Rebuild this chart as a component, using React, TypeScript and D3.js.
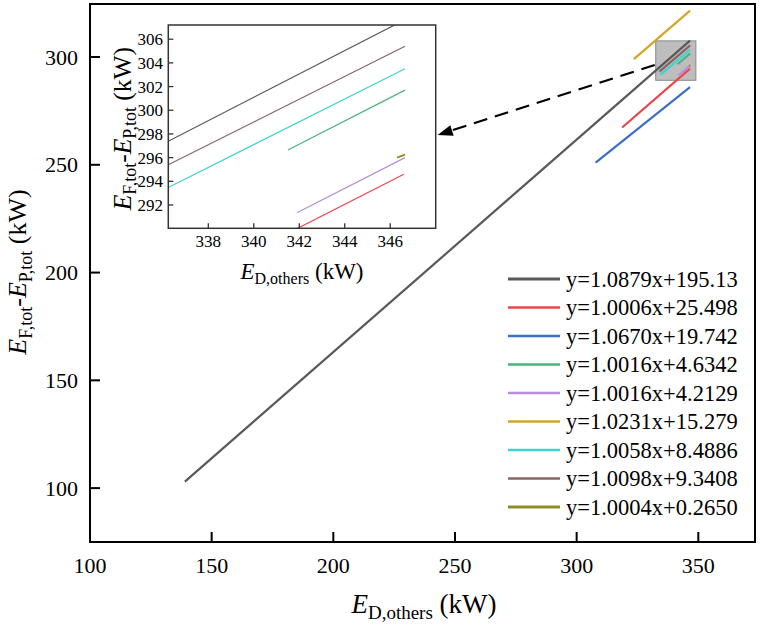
import * as d3 from "d3";

// legend labels and colours
const LABELS = [
  "y=1.0879x+195.13",
  "y=1.0006x+25.498",
  "y=1.0670x+19.742",
  "y=1.0016x+4.6342",
  "y=1.0016x+4.2129",
  "y=1.0231x+15.279",
  "y=1.0058x+8.4886",
  "y=1.0098x+9.3408",
  "y=1.0004x+0.2650",
];
const COLORS = [
  "#595959",
  "#e8474a",
  "#3b6fc4",
  "#4db37e",
  "#b98ddb",
  "#d4a52a",
  "#3fd4d0",
  "#8a6464",
  "#8c8c28",
];

// fitted line segments, [E_D,others, E_F,tot - E_P,tot] in kW
const BLACK: [number, number][] = [[139, 103], [346.6, 307.6]];
const RED: [number, number][] = [[318.7, 267.3], [346.6, 294.6]];
const BLUE: [number, number][] = [[307.8, 251], [346.6, 286]];
const GREEN: [number, number][] = [[341.5, 296.65], [346.65, 301.7]];
const PURPLE: [number, number][] = [[341.9, 291.35], [346.65, 296.0]];
const GOLD: [number, number][] = [[323.5, 299], [346.6, 321.5]];
const CYAN: [number, number][] = [[334.5, 291.8], [346.65, 303.5]];
const BROWN: [number, number][] = [[334, 293.25], [346.65, 305.4]];
const OLIVE: [number, number][] = [[346.3, 296.0], [346.65, 296.25]];
const SERIES = [BLACK, RED, BLUE, GREEN, PURPLE, GOLD, CYAN, BROWN, OLIVE];

// zoom box drawn in the main plot
const ZOOM_BOX = { x0: 332.5, x1: 349, y0: 289.2, y1: 307.5 };

const X_TICKS = [100, 150, 200, 250, 300, 350];
const Y_TICKS = [100, 150, 200, 250, 300];
const IX_TICKS = [338, 340, 342, 344, 346];
const IY_TICKS = [292, 294, 296, 298, 300, 302, 304, 306];

const FONT = "Liberation Serif, Times New Roman, serif";

export default function App() {
  const W = 762;
  const H = 631;
  const m = { left: 90, right: 755, top: 4, bottom: 542 };
  const ins = { left: 168.3, right: 435.7, top: 25, bottom: 228.3 };

  const x = d3.scaleLinear().domain([100, 373.3]).range([m.left, m.right]);
  const y = d3.scaleLinear().domain([75, 324.6]).range([m.bottom, m.top]);
  const ix = d3.scaleLinear().domain([336.24, 348]).range([ins.left, ins.right]);
  const iy = d3.scaleLinear().domain([290.03, 307.2]).range([ins.bottom, ins.top]);

  const mainLine = d3.line<[number, number]>().x((d) => x(d[0])).y((d) => y(d[1]));
  const insetLine = d3.line<[number, number]>().x((d) => ix(d[0])).y((d) => iy(d[1]));

  // dashed arrow from the zoom box to the inset
  const ax0 = x(ZOOM_BOX.x0) - 1;
  const ay0 = y(296.3);
  const ax1 = ins.right + 2;
  const ay1 = 135;
  const ang = Math.atan2(ay1 - ay0, ax1 - ax0);
  const headL = 15;
  const headW = 5.5;
  const bx = ax1 - headL * Math.cos(ang);
  const by = ay1 - headL * Math.sin(ang);
  const head = [
    [ax1, ay1],
    [bx + headW * Math.sin(ang), by - headW * Math.cos(ang)],
    [bx - headW * Math.sin(ang), by + headW * Math.cos(ang)],
  ]
    .map((p) => p.join(","))
    .join(" ");

  const legendY0 = 279;
  const legendStep = 28.5;

  return (
    <svg
      width={W}
      height={H}
      style={{ position: "absolute", left: 0, top: 0, background: "#fff", fontFamily: FONT }}
    >
      <defs>
        <clipPath id="mainClip">
          <rect x={m.left} y={m.top} width={m.right - m.left} height={m.bottom - m.top} />
        </clipPath>
        <clipPath id="insetClip">
          <rect x={ins.left} y={ins.top} width={ins.right - ins.left} height={ins.bottom - ins.top} />
        </clipPath>
      </defs>

      {/* zoom box */}
      <rect
        x={x(ZOOM_BOX.x0)}
        y={y(ZOOM_BOX.y1)}
        width={x(ZOOM_BOX.x1) - x(ZOOM_BOX.x0)}
        height={y(ZOOM_BOX.y0) - y(ZOOM_BOX.y1)}
        fill="#bdbdbd"
        stroke="#8a8a8a"
        strokeWidth={1}
      />

      {/* main lines */}
      <g clipPath="url(#mainClip)">
        {SERIES.map((s, i) => (
          <path
            key={i}
            d={mainLine(s) ?? ""}
            fill="none"
            stroke={COLORS[i]}
            strokeWidth={2.2}
          />
        ))}
      </g>

      {/* dashed arrow */}
      <line
        x1={ax0}
        y1={ay0}
        x2={bx}
        y2={by}
        stroke="#000"
        strokeWidth={2.2}
        strokeDasharray="14 8"
      />
      <polygon points={head} fill="#000" />

      {/* main frame */}
      <rect
        x={m.left}
        y={m.top}
        width={m.right - m.left}
        height={m.bottom - m.top}
        fill="none"
        stroke="#000"
        strokeWidth={2}
      />
      {X_TICKS.map((t) => (
        <g key={t}>
          <line x1={x(t)} x2={x(t)} y1={m.bottom} y2={m.bottom - 10} stroke="#000" strokeWidth={2} />
          <text x={x(t)} y={573} fontSize={22} textAnchor="middle">
            {t}
          </text>
        </g>
      ))}
      {Y_TICKS.map((t) => (
        <g key={t}>
          <line x1={m.left} x2={m.left + 10} y1={y(t)} y2={y(t)} stroke="#000" strokeWidth={2} />
          <text x={78} y={y(t)} dy="0.35em" fontSize={22} textAnchor="end">
            {t}
          </text>
        </g>
      ))}

      {/* main axis titles */}
      <text x={424} y={613} fontSize={27} textAnchor="middle">
        <tspan fontStyle="italic">E</tspan>
        <tspan fontSize={19} dy={6}>D,others</tspan>
        <tspan dy={-6}> (kW)</tspan>
      </text>
      <text transform={`translate(26,272) rotate(-90)`} fontSize={26} textAnchor="middle">
        <tspan fontStyle="italic">E</tspan>
        <tspan fontSize={18} dy={6}>F,tot</tspan>
        <tspan dy={-6}>-</tspan>
        <tspan fontStyle="italic">E</tspan>
        <tspan fontSize={18} dy={6}>P,tot</tspan>
        <tspan dy={-6}> (kW)</tspan>
      </text>

      {/* inset */}
      <rect
        x={ins.left}
        y={ins.top}
        width={ins.right - ins.left}
        height={ins.bottom - ins.top}
        fill="#fff"
      />
      <g clipPath="url(#insetClip)">
        {SERIES.map((s, i) => (
          <path
            key={i}
            d={insetLine(s) ?? ""}
            fill="none"
            stroke={COLORS[i]}
            strokeWidth={i === 8 ? 1.8 : 1.2}
          />
        ))}
      </g>
      <rect
        x={ins.left}
        y={ins.top}
        width={ins.right - ins.left}
        height={ins.bottom - ins.top}
        fill="none"
        stroke="#333"
        strokeWidth={1.5}
      />
      {IX_TICKS.map((t) => (
        <g key={t}>
          <line x1={ix(t)} x2={ix(t)} y1={ins.bottom} y2={ins.bottom - 5} stroke="#333" strokeWidth={1.3} />
          <text x={ix(t)} y={247} fontSize={17} textAnchor="middle">
            {t}
          </text>
        </g>
      ))}
      {IY_TICKS.map((t) => (
        <g key={t}>
          <line x1={ins.left} x2={ins.left + 5} y1={iy(t)} y2={iy(t)} stroke="#333" strokeWidth={1.3} />
          <text x={163} y={iy(t)} dy="0.35em" fontSize={17} textAnchor="end">
            {t}
          </text>
        </g>
      ))}
      <text x={(ins.left + ins.right) / 2} y={279} fontSize={23} textAnchor="middle">
        <tspan fontStyle="italic">E</tspan>
        <tspan fontSize={16} dy={5}>D,others</tspan>
        <tspan dy={-5}> (kW)</tspan>
      </text>
      <text
        transform={`translate(131,${(ins.top + ins.bottom) / 2 + 2}) rotate(-90)`}
        fontSize={25.5}
        textAnchor="middle"
      >
        <tspan fontStyle="italic">E</tspan>
        <tspan fontSize={18} dy={5}>F,tot</tspan>
        <tspan dy={-5}>-</tspan>
        <tspan fontStyle="italic">E</tspan>
        <tspan fontSize={18} dy={5}>P,tot</tspan>
        <tspan dy={-5}> (kW)</tspan>
      </text>

      {/* legend */}
      {LABELS.map((lab, i) => (
        <g key={lab} transform={`translate(0,${legendY0 + i * legendStep})`}>
          <line
            x1={508}
            x2={560}
            y1={0}
            y2={0}
            stroke={COLORS[i]}
            strokeWidth={i === 0 || i === 8 ? 3 : 2.3}
          />
          <text x={566} y={0} dy="0.35em" fontSize={22.5}>
            {lab}
          </text>
        </g>
      ))}
    </svg>
  );
}
